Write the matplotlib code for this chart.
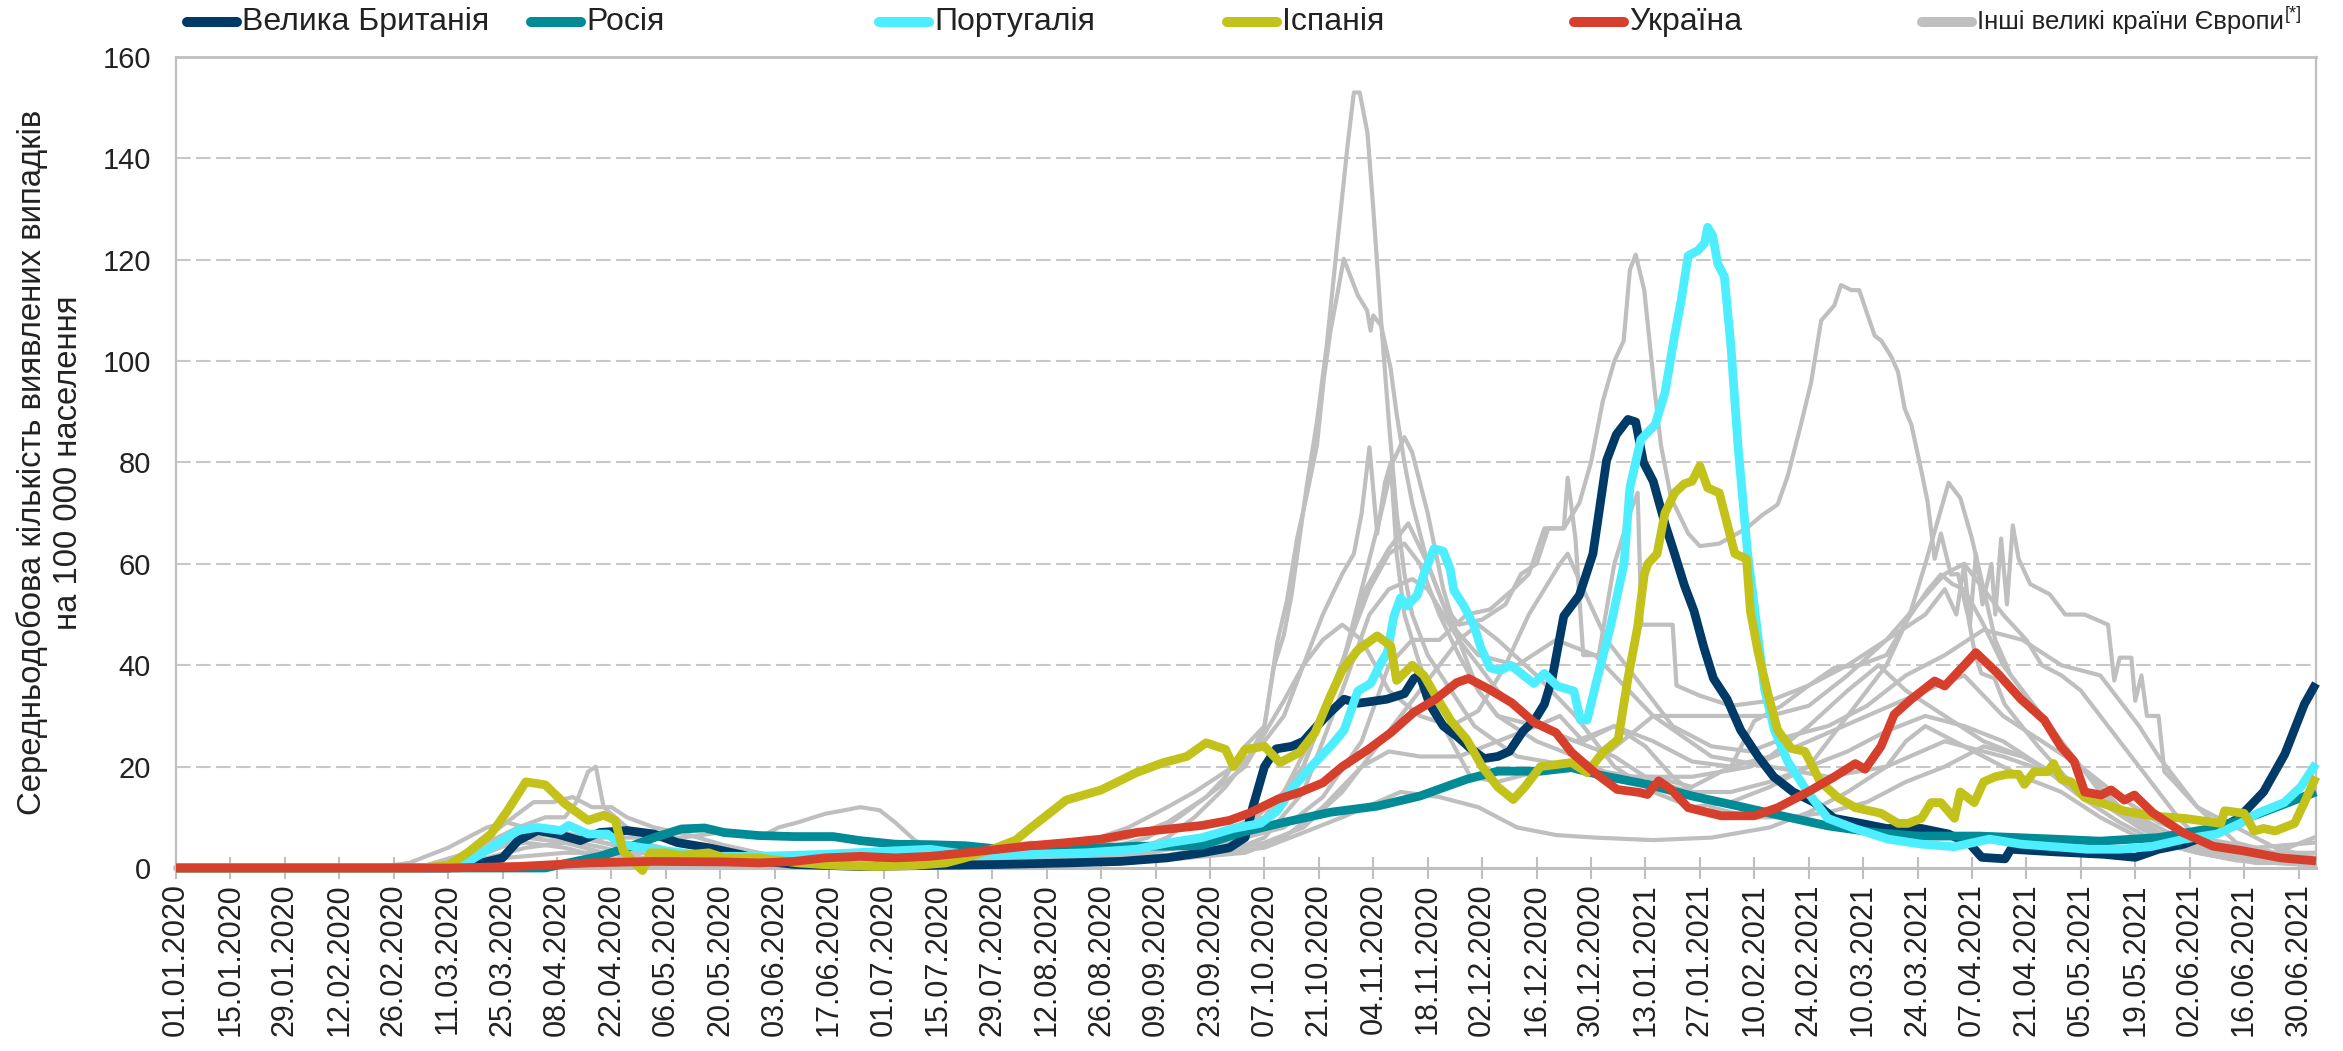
import matplotlib
matplotlib.use("Agg")
import matplotlib.pyplot as plt
from matplotlib.lines import Line2D
from matplotlib import font_manager
import pandas as pd

plt.rcParams['font.family'] = ['Liberation Sans', 'DejaVu Sans']

# дні від 01.01.2020 і значення (випадків на 100 000)
start = pd.Timestamp("2020-01-01")

uk = [(0,0),(70,0),(77,0.7),(84,2),(88,5.4),(93,7.4),(98,6.7),(104,5.4),(109,7),(116,7.4),(123,6.7),(129,5),(137,4),(145,2.7),(152,1.3),(159,0.7),(176,0.3),(194,0.5),(212,0.7),(229,1),(243,1.3),(255,2),(264,3),(271,4),(275,6),(277,12),(280,20),(283,23.5),(287,24),(290,25),(293.5,28),(297,30.8),(300.5,33.3),(304,32.5),(307,32.8),(311.5,33.3),(316,34.4),(318.5,37.4),(320,38),(322.5,32.3),(326,28),(329.5,26),(333,23.6),(336.5,21.6),(340,22),(343,23),(346.5,27),(349.5,29.2),(352,32.3),(354,37.4),(357,49.7),(361,53.8),(364.5,62),(368,80.4),(370.5,85.5),(373.5,88.5),(375.5,88),(377.5,80),(380,76.3),(383,68),(385.5,62),(388,55.8),(390.5,50.7),(393,43.6),(395.5,37.4),(399,33.3),(402.5,27.2),(407,22),(411,18),(416,15),(421.5,12.9),(426.5,9.8),(433.5,8.8),(440,7.8),(449,7.8),(456,6.7),(461.5,4.7),(464.5,2.1),(470.5,1.8),(472,3.7),(483,3.2),(496,2.7),(504,2.1),(510,3.7),(516.5,4.7),(523.5,6.7),(530.5,9.8),(537,15),(542.5,22.5),(547.5,32.3),(550.5,36.4)]

russia = [(0,0),(95,0),(99,0.7),(109,2.3),(116,4),(123,6),(130,7.7),(136,7.9),(141,7),(150,6.4),(159,6.2),(169,6.2),(176,5.4),(185,4.7),(194,4.6),(203,4.4),(212,3.7),(220,3.4),(229,3.7),(238,4),(247,4.3),(256,4.3),(264,4.5),(274,7),(285,9),(297,11),(309,12.2),(320,14.2),(332,17.5),(340,19.1),(351,19.1),(359,19.8),(367,18.2),(378.5,16.5),(390,14.2),(402,12.2),(413,10.3),(425,8.3),(437,7),(448,6.3),(464,6.3),(483,5.7),(495,5.3),(510,6),(522,7.6),(532,9.6),(541,12.2),(550.5,15)]

portugal = [(0,0),(70,0),(74,0.7),(81,4),(88,7.4),(93,8),(99,7.4),(101,8.4),(106,6.7),(111,6.7),(114.5,4.7),(120,4),(123,3.7),(137,2.3),(150,2.3),(167,2.7),(185,3.4),(194,3.7),(203,2.7),(220,2.7),(234,3),(247,3.7),(255.5,5),(264,6),(272,7.8),(279,8.8),(283.3,11.3),(287.5,16),(292,20),(297,24),(300.5,27.2),(304,34.9),(307.3,36.4),(310,40.5),(311.6,42.5),(313.3,49.7),(315,53.3),(316.7,51.7),(319.3,53.8),(321,57.9),(323.6,63),(326,62.5),(327.8,58.9),(328.7,54.8),(331.3,51.7),(334,47.6),(335.6,43.6),(338,39.5),(340.7,39),(343.3,40),(346,38.4),(349.3,36.4),(352,38.4),(355.3,35.9),(359.6,34.9),(361.3,29.2),(363,29.2),(365.6,37.4),(369,47.6),(372.5,60),(374,75),(376.8,84.5),(380.5,87.5),(383,93.7),(385.5,105),(387.2,112),(389,120.8),(391.5,121.8),(393.2,123.3),(394,126.4),(395.3,124.8),(396.6,119.2),(398.3,116.7),(400,102.9),(401.8,83.4),(404.3,62),(406,51.7),(408.6,35.4),(411.2,27.2),(414.6,21),(419.8,14.9),(424.9,9.8),(431.8,7.8),(440.4,5.7),(449,4.7),(457.5,4.2),(466.5,5.7),(474.6,4.7),(483,4.2),(491.6,3.7),(500,3.7),(508,4.2),(516.6,5.7),(525,6.7),(531,8.8),(535.5,10.8),(542.3,12.9),(546.6,16),(550.5,20.6)]

spain = [(0,0),(63,0),(70,0.5),(75,3),(81,6.7),(85,11),(90,17),(95,16.4),(100,12.7),(106,9.4),(110,10.4),(113,9.4),(115,3.4),(118,1),(120,-0.5),(122,3),(126,3),(130,2.5),(137,3),(141,2),(150,2),(160,1),(170,0.5),(180,0.3),(190,0.5),(198,1),(203,2),(211,4),(216,5.5),(220,8),(225,11),(229,13.4),(238,15.4),(247,18.8),(254,20.8),(260,22),(265,24.7),(270,23.4),(272,20),(275,23.4),(280,24),(284,20.8),(289,22.8),(293,26.7),(297,34),(300,39),(304,43),(309,45.8),(312.5,43.8),(314,37),(318,40),(321,38),(324,34),(328,29),(332,25.4),(336,20),(340,16),(344,13.5),(347,16),(351,20),(359,20.8),(363,18.8),(367,22.8),(371,25.4),(373.5,37.4),(376,47.6),(377.7,57.9),(378.6,60),(381,62),(383,70),(385.5,74),(388,75.8),(390,76.3),(392,79.3),(394,75),(397,74),(399,68),(401,62),(404,61),(405,50.7),(407,42.5),(409.5,34.4),(412,27.2),(415.5,23.6),(419,23),(423,17),(427.5,13.9),(432,11.9),(438.6,10.8),(443,8.8),(445.5,8.8),(449,9.8),(451.5,12.9),(454,12.9),(457.5,9.8),(459,15),(462.6,12.9),(465,17),(468,18),(471,18.5),(474,18.5),(475.5,16.5),(478,19),(481.5,19),(483,20.6),(485,17.5),(487.5,17),(491,13.9),(495,12.9),(501,11.3),(508,10.3),(516.6,9.8),(526,8.8),(527,11.3),(532,10.8),(534.6,7.3),(537,7.8),(540,7.3),(545,8.8),(547.5,12.9),(550.5,18)]

ukraine = [(0,0),(70,0),(88,0.3),(106,1),(123,1.3),(141,1.2),(150,1),(159,1.3),(167,2),(176,2.3),(185,2),(194,2.3),(203,3),(211.5,3.7),(220,4.4),(229,5),(238,5.7),(247,7),(255.5,7.7),(264,8.4),(271,9.4),(276,10.8),(283.5,13.6),(289,14.9),(295,16.8),(300,20),(306.7,23.4),(312.5,26.7),(318.4,30.7),(324,33.3),(329.5,36.6),(332.5,37.4),(337.7,35.3),(343.6,32.6),(349.4,28.7),(355,26.7),(359,22.8),(365,18.8),(370.7,15.5),(376.5,14.9),(378.5,14.5),(381.4,17.2),(384.6,15.5),(389,11.9),(397.5,10.3),(406,10.3),(412,11.9),(419.8,15),(426.6,18),(432,20.6),(434.5,19.5),(438.6,24),(442,30.3),(446.4,33.3),(452.4,36.9),(455,35.9),(460,40),(463,42.5),(468.6,38.4),(474.6,33.3),(480.6,29.2),(484.8,24),(488.3,21),(491,15),(495.2,14.4),(497.8,15.4),(501.2,13.4),(503.8,14.4),(508.5,10.9),(516.2,7),(524,4.3),(531.7,3.4),(541.4,2),(550.5,1.4)]

# інші великі країни Європи
other1 = [(0,0),(62,0),(75,3),(85,9),(92,13),(97,13),(102,14),(107,12),(112,12),(116,10),(123,8),(132,6.5),(141,4.5),(150,3),(160,1.5),(180,1),(200,1.5),(210,4),(220,5),(230,4),(240,4),(250,6),(258,10),(265,14),(270,18),(275,24),(280,28),(282.5,40),(285,46),(287,54),(289,65),(291,76),(293.5,88),(296,103),(298.7,123),(301.3,142),(303,153),(304.5,153),(306.5,145),(308,130),(310,108),(312,88),(314,70),(316,58),(318,50),(322,42),(328,35),(334,28),(345,22),(360,20),(375,18),(390,18),(405,20),(420,25),(435,30),(450,35),(460,38),(470,30),(480,25),(490,20),(500,14),(510,9),(520,6),(535,4),(550,5)]

other2 = [(0,0),(70,0),(85,2),(100,3),(120,3),(140,1),(170,1),(200,1),(230,2),(245,3),(255,6),(262,10),(270,16),(276,22),(280,28),(283.3,44.6),(285.8,52.8),(288.4,65),(291,74),(293.5,83.4),(295.3,96.7),(297,106),(298.7,113),(300.4,120.2),(302,117),(304,113),(306.4,110),(307.3,106),(308,109),(310,107),(312.4,98.8),(314,89.6),(316,80),(318,72),(322,60),(326,52),(330,48),(336,49),(342,52),(346,58),(350,60),(353,67),(357,67),(361,72),(364,80),(367,92),(370,100),(372.4,104),(374,118),(375.5,121),(377.7,114),(380.3,94.7),(382,83.4),(384.6,73),(389,66),(392,63.5),(397,64),(404,67),(408,69.6),(412,71.7),(414.6,77.3),(418,87.5),(420.6,95.7),(423.2,108),(426.6,111),(428.3,115),(431,114),(433,114),(435.2,109),(437,105),(438.7,104),(441.3,100.8),(443,97.8),(444.7,90.6),(446.4,87.5),(449,78.3),(450.6,72.2),(452.4,61),(454,66),(456.6,57.9),(458.4,58),(461,49.7),(462.7,42.5),(464.4,38.4),(467.8,37.4),(470.4,32.3),(474.6,28.2),(479,24),(486,18),(495,13),(505,8),(515,5),(530,3),(550,2)]

other3 = [(0,0),(60,0),(70,1),(80,5),(88,8),(95,10),(100,10),(103,13),(106,19),(108,20),(110,12),(113,10),(116,8),(120,5),(125,4),(130,2.5),(140,1.5),(150,1),(180,1),(200,1.5),(215,2.5),(230,4),(245,8),(255,12),(262,15),(268,18),(272,20),(276,22),(280,25),(285,30),(290,40),(295,50),(300,58),(303,62),(305,70),(307,83),(309,66),(311,76),(312.5,80),(314,62),(316,50),(320,40),(326,28),(333,18),(340,17),(350,19),(357,21),(364,20),(372,25),(380,30),(390,30),(400,30),(410,30),(420,32),(430,38),(440,45),(448,52),(455,58),(460,60),(465,55),(470,50),(476,45),(480,40),(485,38),(490,35),(495,30),(500,25),(505,20),(510,15),(515,10),(520,6),(530,4),(540,3),(550,3)]

other4 = [(0,0),(65,0),(80,2),(90,4),(100,5),(110,6),(120,6),(130,6),(140,7),(150,6),(155,8),(160,9),(167,10.7),(172,11.4),(176,12),(181,11.4),(185,9),(190,5.5),(195,3.5),(200,3),(210,2.5),(220,2),(240,2),(255,2.5),(265,4),(275,6),(285,8),(295,14),(305,25),(312,40),(318,45),(325,45),(332,50),(338,51),(344,55),(348,58),(352,67),(357,67),(358,77),(360,65),(362,42),(366,42),(370,60),(374,70),(376,74),(377,48),(385,48),(386,36),(392,34),(400,32),(410,33),(420,36),(430,40),(440,45),(450,50),(455,55),(458,50),(460,60),(461.5,48),(463,62),(464.7,52),(467,60),(468,50),(469.5,65),(471,52),(472.5,67.6),(474,61),(477,56),(482,54),(486,50),(491,50),(497,48),(498.6,37),(500,41.5),(503,41.5),(504,33),(505.6,38),(507,30),(510,30),(511.5,19),(514,17),(520,12),(530,8),(540,4),(550,2)]

other5 = [(0,0),(65,0),(80,4),(90,6),(100,7),(110,5),(120,3),(140,1.5),(170,0.5),(200,1),(215,2),(230,4),(245,6),(255,9),(265,14),(275,20),(285,33),(290,40),(295,45),(300,48),(305,45),(312,35),(320,30),(328,28),(335,31),(342,40),(348,50),(352,55),(356,60),(358,62),(362,55),(368,45),(375,38),(385,28),(395,24),(405,23),(415,26),(425,28),(435,32),(445,38),(455,42),(465,47),(475,45),(485,40),(495,38),(500,33),(505,28),(510,22),(520,12),(530,5),(540,3),(550,6)]

other6 = [(0,0),(70,0),(100,1),(130,1),(160,1),(190,1),(210,2),(230,2),(250,3),(265,5),(275,8),(285,15),(295,30),(302,45),(307,55),(312,62),(316,64),(320,60),(325,50),(330,42),(335,35),(340,30),(350,25),(360,22),(370,18),(380,18),(390,16),(400,20),(406,29),(413,32),(420,36),(426.6,39.5),(433,40),(440,42),(446,49.7),(450.6,54.8),(454,57.9),(457,56),(460,55),(465,48),(470,40),(480,30),(490,20),(500,12),(510,7),(520,3),(530,1.5),(550,0.5)]

other7 = [(0,0),(50,0),(60,1),(70,4),(80,8),(85,9),(90,8),(100,6.5),(110,5),(120,3.5),(130,2),(140,1),(160,0.5),(200,0.4),(220,0.7),(240,2),(255,2.5),(270,3),(280,6),(290,15),(300,35),(307,50),(312,55),(318,57),(322,55),(330,45),(340,35),(350,28),(360,25),(370,28),(380,25),(390,21),(400,20),(410,22),(420,28),(430,35),(438,40),(445,35),(455,30),(465,25),(475,22),(485,18),(495,14),(505,9),(515,5),(530,2),(550,1.5)]

other8 = [(0,0),(60,0),(70,1),(80,4),(90,6),(95,6.5),(100,5.5),(110,4),(120,2),(130,1),(160,0.5),(200,0.6),(220,1.5),(240,1.5),(260,2),(275,3),(285,6),(295,12),(305,20),(312,23),(320,22),(330,22),(340,25),(350,28),(356,30),(362,25),(370,28),(378,24),(385,18),(395,12),(405,10),(415,10),(425,11),(435,13),(445,17),(455,20),(465,24),(475,22),(485,18),(495,13),(505,9),(515,5),(525,3),(540,1),(550,0.8)]

other9 = [(0,0),(80,0),(100,1),(130,1),(160,0.5),(200,0.5),(240,1),(260,2),(280,5),(290,8),(300,15),(310,25),(320,35),(330,45),(335,48),(340,45),(350,38),(360,30),(370,20),(380,15),(390,12),(400,13),(410,16),(420,20),(430,30),(440,40),(446,50),(450,60),(453,68),(456,76),(459,73),(462,65),(465,55),(468,45),(472,38),(478,32),(485,25),(495,15),(505,8),(515,4),(530,2),(550,1)]

other10 = [(0,0),(70,0),(80,4),(90,5),(100,4),(110,2),(130,1),(160,0.5),(190,1.5),(220,2),(240,3),(255,4),(265,6),(275,9),(280,10),(290,20),(300,40),(305,55),(310,70),(313,80),(316,85),(318,82),(322,70),(326,55),(330,45),(335,35),(340,30),(350,28),(360,25),(370,22),(380,17),(390,15),(400,15),(410,17),(420,20),(430,23),(440,27),(450,30),(460,28),(470,25),(480,20),(490,14),(500,9),(510,5),(520,3),(535,1),(550,1)]

other11 = [(0,0),(100,0.5),(200,0.5),(240,1),(260,2),(280,4),(300,10),(315,15),(325,14),(335,12),(345,8),(355,6.5),(365,6),(380,5.5),(395,6),(410,8),(420,11),(430,15),(440,20),(445,25),(450,28),(455,26),(465,22),(475,18),(485,15),(495,10),(505,6),(520,3),(550,1.5)]

other12 = [(0,0),(70,0),(80,3),(90,6),(100,5),(110,3),(130,1),(160,0.5),(200,1),(230,2),(250,3),(265,5),(280,10),(290,20),(300,40),(306,55),(312,63),(317,68),(322,60),(328,48),(335,42),(345,40),(355,45),(365,42),(380,30),(395,22),(410,20),(425,18),(440,20),(455,25),(470,22),(485,18),(500,12),(515,6),(530,3),(550,2)]

others = [other1, other2, other3, other4, other5, other6, other7, other8,
          other9, other10, other11, other12]

names = ["Велика Британія", "Росія", "Португалія", "Іспанія", "Україна"]
series = [uk, russia, portugal, spain, ukraine]
colors = ["#003A66", "#008B96", "#4DEEFF", "#C2C21A", "#D63F2C"]
gray = "#BFBFBF"


def to_xy(points):
    days, vals = zip(*points)
    dates = start + pd.to_timedelta(list(days), unit="D")
    return dates, list(vals)


W, H = 2343, 1051
fig = plt.figure(figsize=(W / 100, H / 100), dpi=100)
ax = fig.add_axes([176 / W, 1 - 868 / H, (2316 - 176) / W, (868 - 57) / H])

for pts in others:
    x, y = to_xy(pts)
    ax.plot(x, y, color=gray, lw=3.0, solid_joinstyle="round", zorder=2, clip_on=False)

for i, (pts, c) in enumerate(zip(series, colors)):
    x, y = to_xy(pts)
    ax.plot(x, y, color=c, lw=6.3, solid_joinstyle="round", solid_capstyle="butt",
            zorder=3 + i, clip_on=False)

# осі
ticks = pd.date_range("2020-01-01", "2021-06-30", freq="14D")
ax.set_xlim(start, start + pd.Timedelta(days=550.5))
ax.set_ylim(0, 160)
ax.set_xticks(ticks)
ax.set_xticklabels([t.strftime("%d.%m.%Y") for t in ticks], rotation=90, fontsize=22)
ax.set_yticks(range(0, 161, 20))
ax.tick_params(axis="x", direction="inout", length=16, width=1.5, color=gray,
               pad=3, labelcolor="#222222")
ax.tick_params(axis="y", length=0, pad=18, labelsize=21, labelcolor="#222222")

ax.yaxis.grid(True, color="#C8C8C8", lw=1.5, ls=(0, (7, 2.6)))
ax.set_axisbelow(True)
for side in ["left", "right", "top", "bottom"]:
    ax.spines[side].set_color(gray)
    ax.spines[side].set_linewidth(1.6)
ax.spines["bottom"].set_linewidth(2.2)
ax.spines["top"].set_linewidth(2.0)

ax.set_ylabel("Середньодобова кількість виявлених випадків\nна 100 000 населення",
              fontsize=23.7, color="#222222")
ax.yaxis.set_label_coords(-0.043, 0.5)

# легенда
try:
    font_manager.findfont("Liberation Sans Narrow", fallback_to_default=False)
    last_font = dict(family="Liberation Sans Narrow", fontsize=23)
except ValueError:
    last_font = dict(family="Liberation Sans", fontsize=18.5)

leg_x = [182, 526, 874, 1222, 1569, 1917]
leg_y = 1 - 22 / H
leg_names = names + ["Інші великі країни Європи"]
leg_colors = colors + [gray]
for k, (x0, name, c) in enumerate(zip(leg_x, leg_names, leg_colors)):
    fig.add_artist(Line2D([(x0 + 5) / W, (x0 + 55) / W], [leg_y, leg_y],
                          transform=fig.transFigure, lw=7.2, color=c,
                          solid_capstyle="round"))
    font = last_font if k == len(leg_names) - 1 else dict(fontsize=23)
    t = fig.text((x0 + 60) / W, leg_y, name, va="center", ha="left",
                 color="#222222", **font)

r = fig.canvas.get_renderer()
bb = t.get_window_extent(r)
fig.text(bb.x1 / W + 0.0005, bb.y1 / H + 0.004, "[*]", fontsize=13, va="top",
         ha="left", color="#222222", family=last_font["family"])

fig.savefig("out.png", dpi=100)
